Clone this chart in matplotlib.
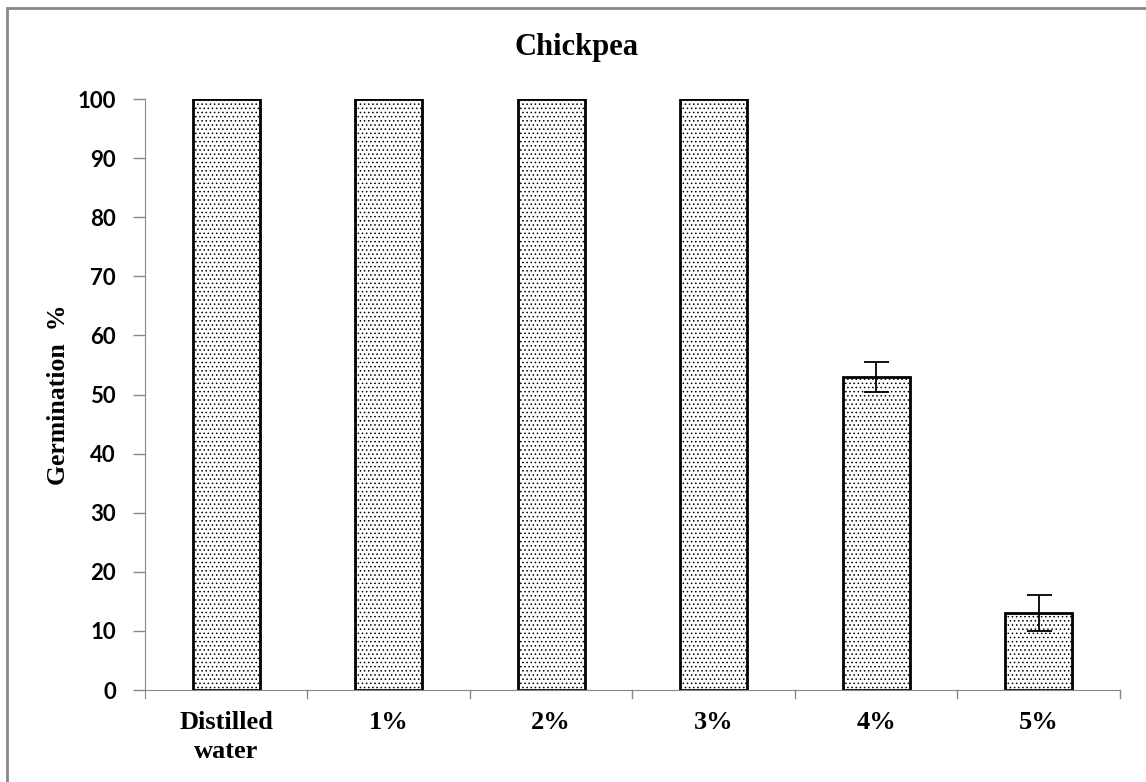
import matplotlib.pyplot as plt
import matplotlib.patches as mpatches

# Germination data for chickpea at increasing concentrations
categories = ['Distilled\nwater', '1%', '2%', '3%', '4%', '5%']
germination = [100, 100, 100, 100, 53, 13]
errors = [0, 0, 0, 0, 2.5, 3]

plt.rcParams['hatch.linewidth'] = 0.6
plt.rcParams['hatch.color'] = '#555555'

fig = plt.figure(figsize=(11.46, 7.82), dpi=100)
ax = fig.add_axes([0.1265, 0.1176, 0.8508, 0.7558])

x = range(len(categories))
ax.bar(x, germination, width=0.41, color='white', edgecolor='black',
       linewidth=2.0, hatch='....', zorder=2)
for i, (v, e) in enumerate(zip(germination, errors)):
    if e > 0:
        ax.errorbar(i, v, yerr=e, fmt='none', ecolor='black', elinewidth=1.3,
                    capsize=9, capthick=1.3, zorder=3)

ax.set_xlim(-0.5, len(categories) - 0.5)
ax.set_ylim(0, 100)
ax.set_yticks(range(0, 101, 10))
ax.set_yticklabels([str(v) for v in range(0, 101, 10)],
                   fontfamily='Lato', fontweight='bold', fontsize=16)
ax.set_xticks(list(x))
ax.set_xticklabels(categories, fontfamily='Liberation Serif',
                   fontweight='bold', fontsize=19, linespacing=1.35)
ax.tick_params(axis='x', length=0, pad=15)
ax.tick_params(axis='y', length=9, width=1, color='#888888', pad=12)

# category separators on the x axis
for b in [i + 0.5 for i in range(len(categories))]:
    ax.plot([b, b], [0, -1.3], color='#888888', lw=1, clip_on=False)

for s in ['top', 'right']:
    ax.spines[s].set_visible(False)
ax.spines['left'].set_color('#888888')
ax.spines['bottom'].set_color('#888888')
ax.spines['left'].set_bounds(-1.3, 100)

ax.set_ylabel('Germination  %', fontfamily='Liberation Serif',
              fontweight='bold', fontsize=18.5, labelpad=5)
fig.text(0.503, 1 - 47 / 782, 'Chickpea', fontfamily='Liberation Serif',
         fontweight='bold', fontsize=22, ha='center', va='center')

# outer chart frame
frame = mpatches.Rectangle((7 / 1146, -0.1), 1.2, 1 - 8 / 782 + 0.1,
                           transform=fig.transFigure, fill=False,
                           edgecolor='#888888', linewidth=2)
fig.patches.append(frame)

fig.savefig('out.png', dpi=100)
